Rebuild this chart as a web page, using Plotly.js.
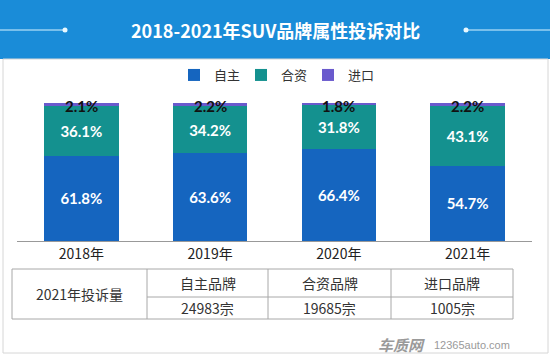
<!DOCTYPE html>
<html>
<head>
<meta charset="utf-8">
<script src="https://cdn.plot.ly/plotly-3.0.1.min.js"></script>
<style>html,body{margin:0;padding:0;background:#fff;}#chart{width:550px;height:356px;}</style>
</head>
<body>
<div id="chart"></div>
<script>
// ---- data ----
const years = ['2018年', '2019年', '2020年', '2021年'];
const seriesNames = ['自主', '合资', '进口'];
const zizhu = [61.8, 63.6, 66.4, 54.7];
const hezi = [36.1, 34.2, 31.8, 43.1];
const jinkou = [2.1, 2.2, 1.8, 2.2];
const chartTitle = '2018-2021年SUV品牌属性投诉对比';
const tableRowLabel = '2021年投诉量';
const tableHeaders = ['自主品牌', '合资品牌', '进口品牌'];
const tableValues = ['24983宗', '19685宗', '1005宗'];

// ---- layout helpers (pixel -> paper) ----
const W = 550, H = 356;
const M = {l: 17, r: 18, t: 103, b: 115};
const pw = W - M.l - M.r, ph = H - M.t - M.b;
const fx = x => (x - M.l) / pw;
const fy = y => (H - M.b - y) / ph;

const colors = ['#1565bf', '#14918f', '#6a5acd'];
const CJK = '"Noto Sans CJK SC", "Noto Sans", sans-serif';
const NUM = 'Lato, "DejaVu Sans", sans-serif';

const mk = (name, vals, color, showText) => ({
  type: 'bar', name: name, x: years, y: vals,
  marker: {color: color, line: {width: 0}},
  text: showText ? vals.map(v => v.toFixed(1) + '%') : undefined,
  textposition: showText ? 'inside' : 'none',
  insidetextanchor: 'middle',
  textfont: {color: '#ffffff', size: 15, family: NUM, weight: 'bold'},
  hoverinfo: 'skip'
});

const data = [
  mk(seriesNames[0], zizhu, colors[0], true),
  mk(seriesNames[1], hezi, colors[1], true),
  mk(seriesNames[2], jinkou, colors[2], false)
];

const line = (x0, y0, x1, y1, color, w) => ({type: 'line', xref: 'paper', yref: 'paper',
  x0: fx(x0), y0: fy(y0), x1: fx(x1), y1: fy(y1), line: {color: color, width: w}, layer: 'above'});
const rect = (x0, y0, x1, y1, fill, lc, lw) => ({type: 'rect', xref: 'paper', yref: 'paper',
  x0: fx(x0), y0: fy(y0), x1: fx(x1), y1: fy(y1), fillcolor: fill, line: {color: lc, width: lw}, layer: 'below'});
const dot = (cx, cy, r, color) => ({type: 'circle', xref: 'paper', yref: 'paper',
  x0: fx(cx - r), x1: fx(cx + r), y0: fy(cy - r), y1: fy(cy + r), fillcolor: color, line: {width: 0}, layer: 'above'});

const shapes = [
  rect(0, 0, 550, 59, '#1a8cd8', '#1a8cd8', 0),
  rect(3, 59, 548, 353, 'rgba(0,0,0,0)', '#d6d6d6', 1),
  line(0, 30, 65, 30, '#d8f3ff', 1), dot(65, 30, 2.5, '#e8f8ff'),
  line(466, 30, 550, 30, '#d8f3ff', 1), dot(466, 30, 2.5, '#e8f8ff'),
  // table
  Object.assign(rect(12, 269, 513, 319, 'rgba(0,0,0,0)', '#a8a8a8', 1), {layer: 'above'}),
  line(147, 269, 147, 319, '#a8a8a8', 1),
  line(268, 269, 268, 319, '#a8a8a8', 1),
  line(391, 269, 391, 319, '#a8a8a8', 1),
  line(147, 297, 513, 297, '#a8a8a8', 1)
];

const ann = (x, y, text, size, color, opts) => Object.assign({xref: 'paper', yref: 'paper',
  x: fx(x), y: fy(y), text: text, showarrow: false, xanchor: 'center', yanchor: 'middle',
  font: {size: size, color: color, family: CJK}}, opts || {});

const colCenters = [207.5, 329.5, 452];
const annotations = [
  ann(275, 30, '<b>' + chartTitle + '</b>', 18, '#ffffff'),
  ann(79.5, 294, tableRowLabel, 14, '#333333'),
  ...tableHeaders.map((t, i) => ann(colCenters[i], 283, t, 14, '#333333')),
  ...tableValues.map((t, i) => ann(colCenters[i], 308, t, 14, '#333333')),
  ann(401, 344, '<b><i>车质网</i></b>', 15, '#9a9a9a'),
  ann(472, 345, '12365auto.com', 11, '#9a9a9a', {font: {size: 11, color: '#9a9a9a', family: 'Arial, "Liberation Sans", sans-serif'}}),
  // top labels for the thin 进口 segment
  ...jinkou.map((v, i) => ({x: years[i], y: 100, xref: 'x', yref: 'y', text: v.toFixed(1) + '%',
    showarrow: false, xanchor: 'center', yanchor: 'middle', yshift: -3,
    font: {size: 15, color: '#111111', family: NUM, weight: 'bold'}}))
];

const layout = {
  width: W, height: H,
  margin: M,
  paper_bgcolor: '#ffffff', plot_bgcolor: 'rgba(0,0,0,0)',
  barmode: 'stack', bargap: 0.42,
  showlegend: true,
  legend: {orientation: 'h', x: 0.5, xanchor: 'center', y: fy(75), yanchor: 'middle',
    entrywidth: 22, entrywidthmode: 'pixels', itemwidth: 30,
    font: {size: 13, color: '#333333', family: CJK}, itemclick: false, bgcolor: 'rgba(0,0,0,0)', traceorder: 'normal'},
  xaxis: {type: 'category', range: [-0.5, 3.5], showgrid: false, zeroline: false,
    showline: true, linecolor: '#999999', linewidth: 1, ticks: '',
    tickfont: {size: 14, color: '#222222', family: CJK}, fixedrange: true},
  yaxis: {range: [0, 100], visible: false, showgrid: false, zeroline: false, fixedrange: true},
  shapes: shapes,
  annotations: annotations,
  hovermode: false
};

Plotly.newPlot('chart', data, layout, {displayModeBar: false, staticPlot: true});
</script>
</body>
</html>
